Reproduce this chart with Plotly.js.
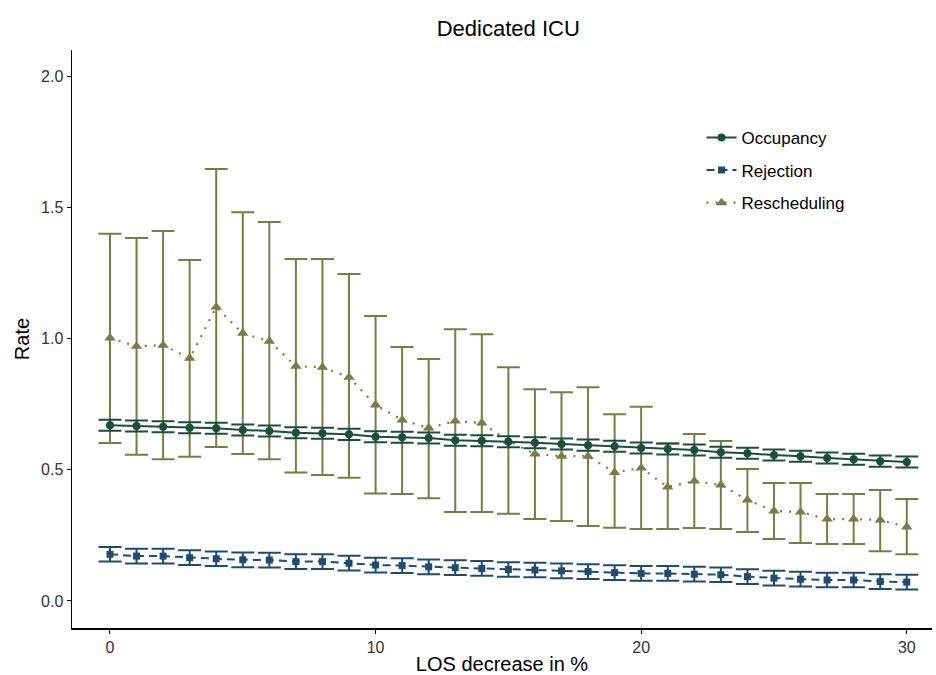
<!DOCTYPE html>
<html>
<head>
<meta charset="utf-8">
<script src="https://cdn.plot.ly/plotly-3.0.1.min.js"></script>
<style>html,body{margin:0;padding:0;background:#fff;overflow:hidden}</style>
</head>
<body>
<div id="chart" style="width:936px;height:675px"></div>
<script>
const losDecrease = [0,1,2,3,4,5,6,7,8,9,10,11,12,13,14,15,16,17,18,19,20,21,22,23,24,25,26,27,28,29,30];

const occupancy = [0.670,0.667,0.664,0.660,0.658,0.652,0.648,0.641,0.639,0.635,0.626,0.624,0.621,0.613,0.611,0.607,0.603,0.598,0.594,0.590,0.583,0.579,0.575,0.567,0.563,0.556,0.552,0.545,0.540,0.533,0.530];
const occupancyErr = [0.021,0.021,0.021,0.021,0.021,0.021,0.021,0.021,0.021,0.021,0.021,0.021,0.021,0.021,0.021,0.021,0.021,0.021,0.021,0.021,0.021,0.021,0.021,0.021,0.021,0.021,0.021,0.021,0.021,0.021,0.021];

const rejection = [0.178,0.171,0.171,0.165,0.161,0.157,0.156,0.150,0.150,0.144,0.137,0.135,0.130,0.127,0.124,0.120,0.118,0.115,0.112,0.108,0.105,0.105,0.102,0.100,0.093,0.087,0.083,0.080,0.080,0.074,0.072];
const rejectionErr = [0.028,0.028,0.028,0.028,0.028,0.028,0.028,0.028,0.028,0.028,0.028,0.028,0.028,0.028,0.028,0.028,0.028,0.028,0.028,0.028,0.028,0.028,0.028,0.028,0.028,0.028,0.028,0.028,0.028,0.028,0.028];

const rescheduling = [1.002,0.971,0.975,0.925,1.120,1.020,0.990,0.895,0.891,0.853,0.747,0.690,0.659,0.686,0.678,0.610,0.560,0.552,0.552,0.490,0.507,0.434,0.457,0.442,0.385,0.343,0.339,0.312,0.312,0.309,0.282];
const reschedulingUpper = [1.400,1.383,1.410,1.300,1.646,1.482,1.444,1.303,1.303,1.246,1.086,0.968,0.922,1.036,1.017,0.891,0.807,0.796,0.815,0.712,0.740,0.600,0.636,0.610,0.503,0.450,0.450,0.408,0.408,0.423,0.389];
const reschedulingLower = [0.602,0.557,0.540,0.550,0.587,0.560,0.540,0.490,0.480,0.470,0.410,0.408,0.392,0.339,0.339,0.332,0.312,0.305,0.286,0.279,0.274,0.274,0.278,0.274,0.263,0.236,0.221,0.217,0.217,0.190,0.178];

const xTicks = [0,10,20,30];
const yTicks = [0,0.5,1,1.5,2];

const cOcc = '#1d4d3b';
const cRej = '#1f4a72';
const cRes = '#787d45';

const resPlus = rescheduling.map((v,i)=>reschedulingUpper[i]-v);
const resMinus = rescheduling.map((v,i)=>v-reschedulingLower[i]);

const traces = [
  {
    x: losDecrease, y: rescheduling, name: 'Rescheduling', type: 'scatter', mode: 'lines+markers',
    line: {color: cRes, width: 2.2, dash: '2px,7px'},
    marker: {color: cRes, symbol: 'triangle-up', size: 10},
    error_y: {type: 'data', symmetric: false, array: resPlus, arrayminus: resMinus, color: cRes, thickness: 2, width: 11.5},
    legendrank: 3, legendgroup: 'c'
  },
  {
    x: losDecrease, y: occupancy, name: 'Occupancy', type: 'scatter', mode: 'lines+markers',
    line: {color: cOcc, width: 2, dash: 'solid'},
    marker: {color: cOcc, symbol: 'circle', size: 8},
    error_y: {type: 'data', array: occupancyErr, color: cOcc, thickness: 2, width: 11.5},
    legendrank: 1, legendgroup: 'a'
  },
  {
    x: losDecrease, y: rejection, name: 'Rejection', type: 'scatter', mode: 'lines+markers',
    line: {color: cRej, width: 2, dash: '8px,5px'},
    marker: {color: cRej, symbol: 'square', size: 7},
    error_y: {type: 'data', array: rejectionErr, color: cRej, thickness: 2, width: 11.5},
    legendrank: 2, legendgroup: 'b'
  }
];

const layout = {
  width: 936, height: 675,
  paper_bgcolor: '#fff', plot_bgcolor: '#fff',
  font: {family: 'Liberation Sans, Arial, sans-serif', color: '#000'},
  margin: {l: 72, r: 4, t: 50, b: 47},
  title: {text: 'Dedicated ICU', font: {size: 22, color: '#000'}, x: 0.543, xanchor: 'center', y: 0.958, yanchor: 'middle'},
  showlegend: true,
  legend: {x: 0.732, y: 0.879, xanchor: 'left', yanchor: 'top', font: {size: 17, color: '#000'}, tracegroupgap: 7.5, bgcolor: 'rgba(0,0,0,0)', itemwidth: 30, traceorder: 'grouped'},
  xaxis: {
    range: [-1.43, 30.95], tickvals: xTicks, ticktext: xTicks.map(String),
    showgrid: false, zeroline: false, showline: true, linecolor: '#000', linewidth: 1.5,
    ticks: 'outside', ticklen: 4, tickcolor: '#000', tickwidth: 1,
    tickfont: {size: 16, color: '#333'},
    title: {text: 'LOS decrease in %', font: {size: 20, color: '#000'}, standoff: 4}
  },
  yaxis: {
    range: [-0.103, 2.1], tickvals: yTicks, ticktext: yTicks.map(v=>v.toFixed(1)),
    showgrid: false, zeroline: false, showline: true, linecolor: '#000', linewidth: 1.5,
    ticks: 'outside', ticklen: 4, tickcolor: '#000', tickwidth: 1,
    tickfont: {size: 16, color: '#333'},
    title: {text: 'Rate', font: {size: 20, color: '#000'}, standoff: 6}
  }
};

Plotly.newPlot('chart', traces, layout, {staticPlot: true, displayModeBar: false});
</script>
</body>
</html>
